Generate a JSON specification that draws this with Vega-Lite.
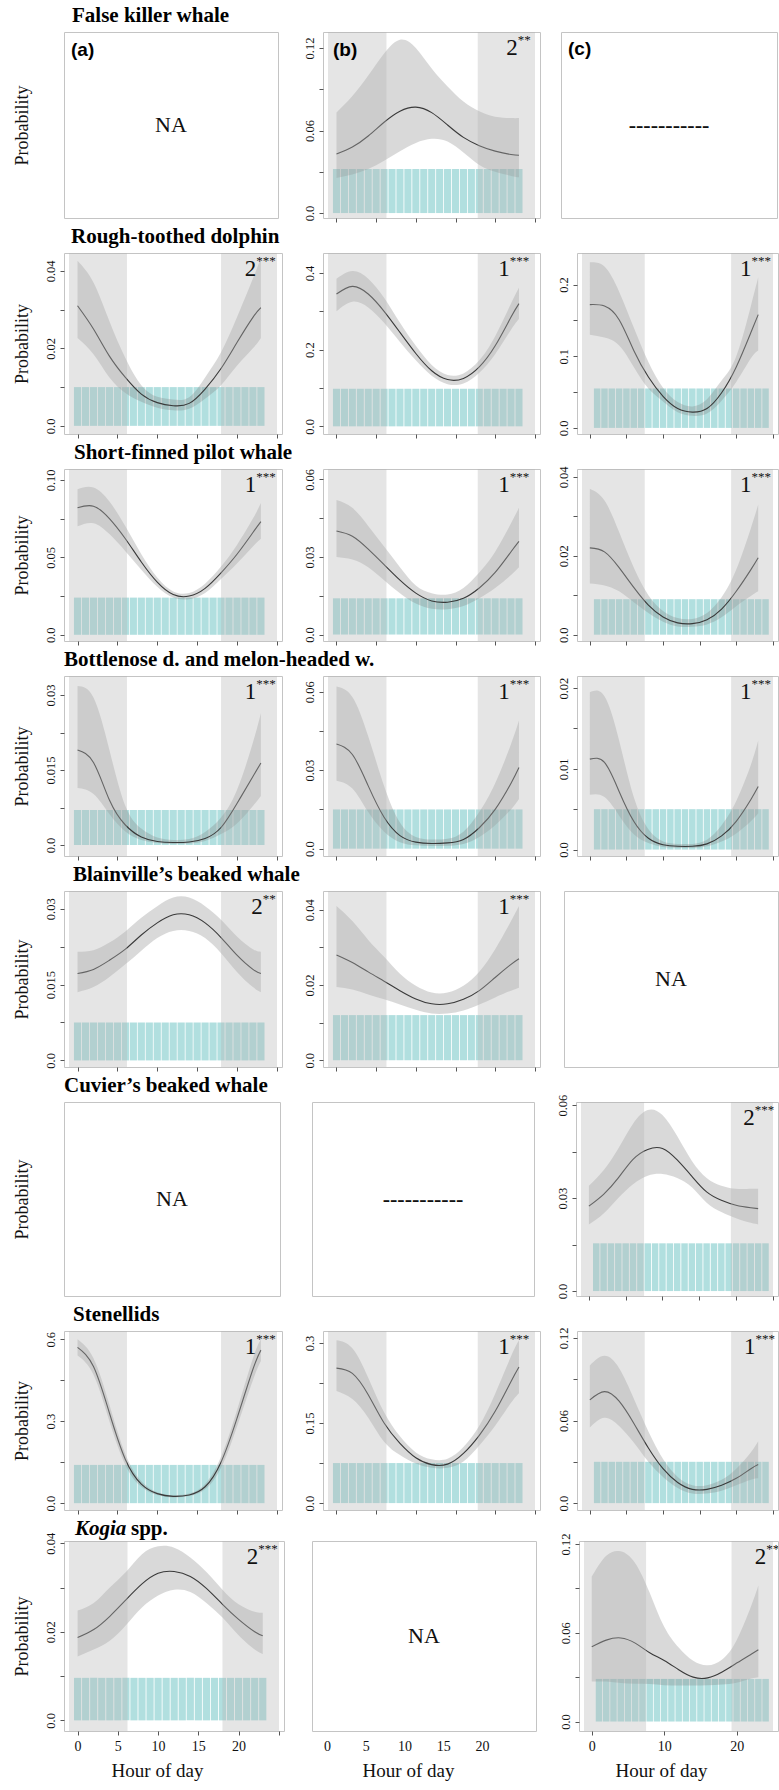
{
"$schema":"https://vega.github.io/schema/vega-lite/v6.json",
"background":"white",
"padding":{"left":12,"top":4,"right":0,"bottom":0},
"spacing":2,
"config":{
 "view":{"stroke":"#c4c4c4","strokeWidth":1},
 "axis":{"grid":false,"domain":false,"tickColor":"#555555","tickSize":4,"tickWidth":1,"labelFont":"Liberation Serif","titleFont":"Liberation Serif","labelColor":"#111111","titleColor":"#111111","titleFontWeight":"normal","labelFlush":false,"labelOverlap":false},
 "axisY":{"labelAngle":270,"labelAlign":"center","labelBaseline":"bottom","labelFontSize":12.5,"labelPadding":3,"minExtent":22,"maxExtent":22,"titleFontSize":18,"titlePadding":11},
 "axisX":{"labelAngle":0,"labelFontSize":14,"labelPadding":4,"titleFontSize":19,"titlePadding":8},
 "title":{"font":"Liberation Serif","fontSize":21,"fontWeight":"bold","anchor":"start","frame":"group","color":"#000000","baseline":"alphabetic","offset":6},
 "text":{"font":"Liberation Serif","color":"#111111"}
},
"datasets":{
"night":[{"col":"a","from":-1.07,"to":6.2},{"col":"a","from":18.0,"to":25.02},{"col":"b","from":-1.07,"to":6.3},{"col":"b","from":17.8,"to":25.02},{"col":"c","from":-1.07,"to":7.5},{"col":"c","from":19.3,"to":25.02}],
"notes":[{"p":"1b","n":"2","s":"**"},{"p":"2a","n":"2","s":"***"},{"p":"2b","n":"1","s":"***"},{"p":"2c","n":"1","s":"***"},{"p":"3a","n":"1","s":"***"},{"p":"3b","n":"1","s":"***"},{"p":"3c","n":"1","s":"***"},{"p":"4a","n":"1","s":"***"},{"p":"4b","n":"1","s":"***"},{"p":"4c","n":"1","s":"***"},{"p":"5a","n":"2","s":"**"},{"p":"5b","n":"1","s":"***"},{"p":"6c","n":"2","s":"***"},{"p":"7a","n":"1","s":"***"},{"p":"7b","n":"1","s":"***"},{"p":"7c","n":"1","s":"***"},{"p":"8a","n":"2","s":"***"},{"p":"8c","n":"2","s":"**"}],
"labels":[{"p":"1a","k":"c","t":"NA"},{"p":"1a","k":"l","t":"(a)"},{"p":"1b","k":"l","t":"(b)"},{"p":"1c","k":"c","t":"-----------"},{"p":"1c","k":"l","t":"(c)"},{"p":"5c","k":"c","t":"NA"},{"p":"6a","k":"c","t":"NA"},{"p":"6b","k":"c","t":"-----------"},{"p":"8b","k":"c","t":"NA"},{"p":"8a","k":"t","t":"Kogia"},{"p":"8a","k":"u","t":"spp."}],
"bars":[
{"p":"1b","h":0,"v":0.032},{"p":"1b","h":1,"v":0.032},{"p":"1b","h":2,"v":0.032},{"p":"1b","h":3,"v":0.032},{"p":"1b","h":4,"v":0.032},{"p":"1b","h":5,"v":0.032},{"p":"1b","h":6,"v":0.032},{"p":"1b","h":7,"v":0.032},{"p":"1b","h":8,"v":0.032},{"p":"1b","h":9,"v":0.032},{"p":"1b","h":10,"v":0.032},{"p":"1b","h":11,"v":0.032},{"p":"1b","h":12,"v":0.032},{"p":"1b","h":13,"v":0.032},{"p":"1b","h":14,"v":0.032},{"p":"1b","h":15,"v":0.032},{"p":"1b","h":16,"v":0.032},{"p":"1b","h":17,"v":0.032},{"p":"1b","h":18,"v":0.032},{"p":"1b","h":19,"v":0.032},{"p":"1b","h":20,"v":0.032},{"p":"1b","h":21,"v":0.032},{"p":"1b","h":22,"v":0.032},{"p":"1b","h":23,"v":0.032},
{"p":"2a","h":0,"v":0.01},{"p":"2a","h":1,"v":0.01},{"p":"2a","h":2,"v":0.01},{"p":"2a","h":3,"v":0.01},{"p":"2a","h":4,"v":0.01},{"p":"2a","h":5,"v":0.01},{"p":"2a","h":6,"v":0.01},{"p":"2a","h":7,"v":0.01},{"p":"2a","h":8,"v":0.01},{"p":"2a","h":9,"v":0.01},{"p":"2a","h":10,"v":0.01},{"p":"2a","h":11,"v":0.01},{"p":"2a","h":12,"v":0.01},{"p":"2a","h":13,"v":0.01},{"p":"2a","h":14,"v":0.01},{"p":"2a","h":15,"v":0.01},{"p":"2a","h":16,"v":0.01},{"p":"2a","h":17,"v":0.01},{"p":"2a","h":18,"v":0.01},{"p":"2a","h":19,"v":0.01},{"p":"2a","h":20,"v":0.01},{"p":"2a","h":21,"v":0.01},{"p":"2a","h":22,"v":0.01},{"p":"2a","h":23,"v":0.01},
{"p":"2b","h":0,"v":0.098},{"p":"2b","h":1,"v":0.098},{"p":"2b","h":2,"v":0.098},{"p":"2b","h":3,"v":0.098},{"p":"2b","h":4,"v":0.098},{"p":"2b","h":5,"v":0.098},{"p":"2b","h":6,"v":0.098},{"p":"2b","h":7,"v":0.098},{"p":"2b","h":8,"v":0.098},{"p":"2b","h":9,"v":0.098},{"p":"2b","h":10,"v":0.098},{"p":"2b","h":11,"v":0.098},{"p":"2b","h":12,"v":0.098},{"p":"2b","h":13,"v":0.098},{"p":"2b","h":14,"v":0.098},{"p":"2b","h":15,"v":0.098},{"p":"2b","h":16,"v":0.098},{"p":"2b","h":17,"v":0.098},{"p":"2b","h":18,"v":0.098},{"p":"2b","h":19,"v":0.098},{"p":"2b","h":20,"v":0.098},{"p":"2b","h":21,"v":0.098},{"p":"2b","h":22,"v":0.098},{"p":"2b","h":23,"v":0.098},
{"p":"2c","h":1,"v":0.055},{"p":"2c","h":2,"v":0.055},{"p":"2c","h":3,"v":0.055},{"p":"2c","h":4,"v":0.055},{"p":"2c","h":5,"v":0.055},{"p":"2c","h":6,"v":0.055},{"p":"2c","h":7,"v":0.055},{"p":"2c","h":8,"v":0.055},{"p":"2c","h":9,"v":0.055},{"p":"2c","h":10,"v":0.055},{"p":"2c","h":11,"v":0.055},{"p":"2c","h":12,"v":0.055},{"p":"2c","h":13,"v":0.055},{"p":"2c","h":14,"v":0.055},{"p":"2c","h":15,"v":0.055},{"p":"2c","h":16,"v":0.055},{"p":"2c","h":17,"v":0.055},{"p":"2c","h":18,"v":0.055},{"p":"2c","h":19,"v":0.055},{"p":"2c","h":20,"v":0.055},{"p":"2c","h":21,"v":0.055},{"p":"2c","h":22,"v":0.055},{"p":"2c","h":23,"v":0.055},{"p":"2c","h":24,"v":0.055},
{"p":"3a","h":0,"v":0.024},{"p":"3a","h":1,"v":0.024},{"p":"3a","h":2,"v":0.024},{"p":"3a","h":3,"v":0.024},{"p":"3a","h":4,"v":0.024},{"p":"3a","h":5,"v":0.024},{"p":"3a","h":6,"v":0.024},{"p":"3a","h":7,"v":0.024},{"p":"3a","h":8,"v":0.024},{"p":"3a","h":9,"v":0.024},{"p":"3a","h":10,"v":0.024},{"p":"3a","h":11,"v":0.024},{"p":"3a","h":12,"v":0.024},{"p":"3a","h":13,"v":0.024},{"p":"3a","h":14,"v":0.024},{"p":"3a","h":15,"v":0.024},{"p":"3a","h":16,"v":0.024},{"p":"3a","h":17,"v":0.024},{"p":"3a","h":18,"v":0.024},{"p":"3a","h":19,"v":0.024},{"p":"3a","h":20,"v":0.024},{"p":"3a","h":21,"v":0.024},{"p":"3a","h":22,"v":0.024},{"p":"3a","h":23,"v":0.024},
{"p":"3b","h":0,"v":0.014},{"p":"3b","h":1,"v":0.014},{"p":"3b","h":2,"v":0.014},{"p":"3b","h":3,"v":0.014},{"p":"3b","h":4,"v":0.014},{"p":"3b","h":5,"v":0.014},{"p":"3b","h":6,"v":0.014},{"p":"3b","h":7,"v":0.014},{"p":"3b","h":8,"v":0.014},{"p":"3b","h":9,"v":0.014},{"p":"3b","h":10,"v":0.014},{"p":"3b","h":11,"v":0.014},{"p":"3b","h":12,"v":0.014},{"p":"3b","h":13,"v":0.014},{"p":"3b","h":14,"v":0.014},{"p":"3b","h":15,"v":0.014},{"p":"3b","h":16,"v":0.014},{"p":"3b","h":17,"v":0.014},{"p":"3b","h":18,"v":0.014},{"p":"3b","h":19,"v":0.014},{"p":"3b","h":20,"v":0.014},{"p":"3b","h":21,"v":0.014},{"p":"3b","h":22,"v":0.014},{"p":"3b","h":23,"v":0.014},
{"p":"3c","h":1,"v":0.009},{"p":"3c","h":2,"v":0.009},{"p":"3c","h":3,"v":0.009},{"p":"3c","h":4,"v":0.009},{"p":"3c","h":5,"v":0.009},{"p":"3c","h":6,"v":0.009},{"p":"3c","h":7,"v":0.009},{"p":"3c","h":8,"v":0.009},{"p":"3c","h":9,"v":0.009},{"p":"3c","h":10,"v":0.009},{"p":"3c","h":11,"v":0.009},{"p":"3c","h":12,"v":0.009},{"p":"3c","h":13,"v":0.009},{"p":"3c","h":14,"v":0.009},{"p":"3c","h":15,"v":0.009},{"p":"3c","h":16,"v":0.009},{"p":"3c","h":17,"v":0.009},{"p":"3c","h":18,"v":0.009},{"p":"3c","h":19,"v":0.009},{"p":"3c","h":20,"v":0.009},{"p":"3c","h":21,"v":0.009},{"p":"3c","h":22,"v":0.009},{"p":"3c","h":23,"v":0.009},{"p":"3c","h":24,"v":0.009},
{"p":"4a","h":0,"v":0.007},{"p":"4a","h":1,"v":0.007},{"p":"4a","h":2,"v":0.007},{"p":"4a","h":3,"v":0.007},{"p":"4a","h":4,"v":0.007},{"p":"4a","h":5,"v":0.007},{"p":"4a","h":6,"v":0.007},{"p":"4a","h":7,"v":0.007},{"p":"4a","h":8,"v":0.007},{"p":"4a","h":9,"v":0.007},{"p":"4a","h":10,"v":0.007},{"p":"4a","h":11,"v":0.007},{"p":"4a","h":12,"v":0.007},{"p":"4a","h":13,"v":0.007},{"p":"4a","h":14,"v":0.007},{"p":"4a","h":15,"v":0.007},{"p":"4a","h":16,"v":0.007},{"p":"4a","h":17,"v":0.007},{"p":"4a","h":18,"v":0.007},{"p":"4a","h":19,"v":0.007},{"p":"4a","h":20,"v":0.007},{"p":"4a","h":21,"v":0.007},{"p":"4a","h":22,"v":0.007},{"p":"4a","h":23,"v":0.007},
{"p":"4b","h":0,"v":0.015},{"p":"4b","h":1,"v":0.015},{"p":"4b","h":2,"v":0.015},{"p":"4b","h":3,"v":0.015},{"p":"4b","h":4,"v":0.015},{"p":"4b","h":5,"v":0.015},{"p":"4b","h":6,"v":0.015},{"p":"4b","h":7,"v":0.015},{"p":"4b","h":8,"v":0.015},{"p":"4b","h":9,"v":0.015},{"p":"4b","h":10,"v":0.015},{"p":"4b","h":11,"v":0.015},{"p":"4b","h":12,"v":0.015},{"p":"4b","h":13,"v":0.015},{"p":"4b","h":14,"v":0.015},{"p":"4b","h":15,"v":0.015},{"p":"4b","h":16,"v":0.015},{"p":"4b","h":17,"v":0.015},{"p":"4b","h":18,"v":0.015},{"p":"4b","h":19,"v":0.015},{"p":"4b","h":20,"v":0.015},{"p":"4b","h":21,"v":0.015},{"p":"4b","h":22,"v":0.015},{"p":"4b","h":23,"v":0.015},
{"p":"4c","h":1,"v":0.005},{"p":"4c","h":2,"v":0.005},{"p":"4c","h":3,"v":0.005},{"p":"4c","h":4,"v":0.005},{"p":"4c","h":5,"v":0.005},{"p":"4c","h":6,"v":0.005},{"p":"4c","h":7,"v":0.005},{"p":"4c","h":8,"v":0.005},{"p":"4c","h":9,"v":0.005},{"p":"4c","h":10,"v":0.005},{"p":"4c","h":11,"v":0.005},{"p":"4c","h":12,"v":0.005},{"p":"4c","h":13,"v":0.005},{"p":"4c","h":14,"v":0.005},{"p":"4c","h":15,"v":0.005},{"p":"4c","h":16,"v":0.005},{"p":"4c","h":17,"v":0.005},{"p":"4c","h":18,"v":0.005},{"p":"4c","h":19,"v":0.005},{"p":"4c","h":20,"v":0.005},{"p":"4c","h":21,"v":0.005},{"p":"4c","h":22,"v":0.005},{"p":"4c","h":23,"v":0.005},{"p":"4c","h":24,"v":0.005},
{"p":"5a","h":0,"v":0.0075},{"p":"5a","h":1,"v":0.0075},{"p":"5a","h":2,"v":0.0075},{"p":"5a","h":3,"v":0.0075},{"p":"5a","h":4,"v":0.0075},{"p":"5a","h":5,"v":0.0075},{"p":"5a","h":6,"v":0.0075},{"p":"5a","h":7,"v":0.0075},{"p":"5a","h":8,"v":0.0075},{"p":"5a","h":9,"v":0.0075},{"p":"5a","h":10,"v":0.0075},{"p":"5a","h":11,"v":0.0075},{"p":"5a","h":12,"v":0.0075},{"p":"5a","h":13,"v":0.0075},{"p":"5a","h":14,"v":0.0075},{"p":"5a","h":15,"v":0.0075},{"p":"5a","h":16,"v":0.0075},{"p":"5a","h":17,"v":0.0075},{"p":"5a","h":18,"v":0.0075},{"p":"5a","h":19,"v":0.0075},{"p":"5a","h":20,"v":0.0075},{"p":"5a","h":21,"v":0.0075},{"p":"5a","h":22,"v":0.0075},{"p":"5a","h":23,"v":0.0075},
{"p":"5b","h":0,"v":0.012},{"p":"5b","h":1,"v":0.012},{"p":"5b","h":2,"v":0.012},{"p":"5b","h":3,"v":0.012},{"p":"5b","h":4,"v":0.012},{"p":"5b","h":5,"v":0.012},{"p":"5b","h":6,"v":0.012},{"p":"5b","h":7,"v":0.012},{"p":"5b","h":8,"v":0.012},{"p":"5b","h":9,"v":0.012},{"p":"5b","h":10,"v":0.012},{"p":"5b","h":11,"v":0.012},{"p":"5b","h":12,"v":0.012},{"p":"5b","h":13,"v":0.012},{"p":"5b","h":14,"v":0.012},{"p":"5b","h":15,"v":0.012},{"p":"5b","h":16,"v":0.012},{"p":"5b","h":17,"v":0.012},{"p":"5b","h":18,"v":0.012},{"p":"5b","h":19,"v":0.012},{"p":"5b","h":20,"v":0.012},{"p":"5b","h":21,"v":0.012},{"p":"5b","h":22,"v":0.012},{"p":"5b","h":23,"v":0.012},
{"p":"6c","h":1,"v":0.0154},{"p":"6c","h":2,"v":0.0154},{"p":"6c","h":3,"v":0.0154},{"p":"6c","h":4,"v":0.0154},{"p":"6c","h":5,"v":0.0154},{"p":"6c","h":6,"v":0.0154},{"p":"6c","h":7,"v":0.0154},{"p":"6c","h":8,"v":0.0154},{"p":"6c","h":9,"v":0.0154},{"p":"6c","h":10,"v":0.0154},{"p":"6c","h":11,"v":0.0154},{"p":"6c","h":12,"v":0.0154},{"p":"6c","h":13,"v":0.0154},{"p":"6c","h":14,"v":0.0154},{"p":"6c","h":15,"v":0.0154},{"p":"6c","h":16,"v":0.0154},{"p":"6c","h":17,"v":0.0154},{"p":"6c","h":18,"v":0.0154},{"p":"6c","h":19,"v":0.0154},{"p":"6c","h":20,"v":0.0154},{"p":"6c","h":21,"v":0.0154},{"p":"6c","h":22,"v":0.0154},{"p":"6c","h":23,"v":0.0154},{"p":"6c","h":24,"v":0.0154},
{"p":"7a","h":0,"v":0.14},{"p":"7a","h":1,"v":0.14},{"p":"7a","h":2,"v":0.14},{"p":"7a","h":3,"v":0.14},{"p":"7a","h":4,"v":0.14},{"p":"7a","h":5,"v":0.14},{"p":"7a","h":6,"v":0.14},{"p":"7a","h":7,"v":0.14},{"p":"7a","h":8,"v":0.14},{"p":"7a","h":9,"v":0.14},{"p":"7a","h":10,"v":0.14},{"p":"7a","h":11,"v":0.14},{"p":"7a","h":12,"v":0.14},{"p":"7a","h":13,"v":0.14},{"p":"7a","h":14,"v":0.14},{"p":"7a","h":15,"v":0.14},{"p":"7a","h":16,"v":0.14},{"p":"7a","h":17,"v":0.14},{"p":"7a","h":18,"v":0.14},{"p":"7a","h":19,"v":0.14},{"p":"7a","h":20,"v":0.14},{"p":"7a","h":21,"v":0.14},{"p":"7a","h":22,"v":0.14},{"p":"7a","h":23,"v":0.14},
{"p":"7b","h":0,"v":0.075},{"p":"7b","h":1,"v":0.075},{"p":"7b","h":2,"v":0.075},{"p":"7b","h":3,"v":0.075},{"p":"7b","h":4,"v":0.075},{"p":"7b","h":5,"v":0.075},{"p":"7b","h":6,"v":0.075},{"p":"7b","h":7,"v":0.075},{"p":"7b","h":8,"v":0.075},{"p":"7b","h":9,"v":0.075},{"p":"7b","h":10,"v":0.075},{"p":"7b","h":11,"v":0.075},{"p":"7b","h":12,"v":0.075},{"p":"7b","h":13,"v":0.075},{"p":"7b","h":14,"v":0.075},{"p":"7b","h":15,"v":0.075},{"p":"7b","h":16,"v":0.075},{"p":"7b","h":17,"v":0.075},{"p":"7b","h":18,"v":0.075},{"p":"7b","h":19,"v":0.075},{"p":"7b","h":20,"v":0.075},{"p":"7b","h":21,"v":0.075},{"p":"7b","h":22,"v":0.075},{"p":"7b","h":23,"v":0.075},
{"p":"7c","h":1,"v":0.03},{"p":"7c","h":2,"v":0.03},{"p":"7c","h":3,"v":0.03},{"p":"7c","h":4,"v":0.03},{"p":"7c","h":5,"v":0.03},{"p":"7c","h":6,"v":0.03},{"p":"7c","h":7,"v":0.03},{"p":"7c","h":8,"v":0.03},{"p":"7c","h":9,"v":0.03},{"p":"7c","h":10,"v":0.03},{"p":"7c","h":11,"v":0.03},{"p":"7c","h":12,"v":0.03},{"p":"7c","h":13,"v":0.03},{"p":"7c","h":14,"v":0.03},{"p":"7c","h":15,"v":0.03},{"p":"7c","h":16,"v":0.03},{"p":"7c","h":17,"v":0.03},{"p":"7c","h":18,"v":0.03},{"p":"7c","h":19,"v":0.03},{"p":"7c","h":20,"v":0.03},{"p":"7c","h":21,"v":0.03},{"p":"7c","h":22,"v":0.03},{"p":"7c","h":23,"v":0.03},{"p":"7c","h":24,"v":0.03},
{"p":"8a","h":0,"v":0.0096},{"p":"8a","h":1,"v":0.0096},{"p":"8a","h":2,"v":0.0096},{"p":"8a","h":3,"v":0.0096},{"p":"8a","h":4,"v":0.0096},{"p":"8a","h":5,"v":0.0096},{"p":"8a","h":6,"v":0.0096},{"p":"8a","h":7,"v":0.0096},{"p":"8a","h":8,"v":0.0096},{"p":"8a","h":9,"v":0.0096},{"p":"8a","h":10,"v":0.0096},{"p":"8a","h":11,"v":0.0096},{"p":"8a","h":12,"v":0.0096},{"p":"8a","h":13,"v":0.0096},{"p":"8a","h":14,"v":0.0096},{"p":"8a","h":15,"v":0.0096},{"p":"8a","h":16,"v":0.0096},{"p":"8a","h":17,"v":0.0096},{"p":"8a","h":18,"v":0.0096},{"p":"8a","h":19,"v":0.0096},{"p":"8a","h":20,"v":0.0096},{"p":"8a","h":21,"v":0.0096},{"p":"8a","h":22,"v":0.0096},{"p":"8a","h":23,"v":0.0096},
{"p":"8c","h":1,"v":0.0288},{"p":"8c","h":2,"v":0.0288},{"p":"8c","h":3,"v":0.0288},{"p":"8c","h":4,"v":0.0288},{"p":"8c","h":5,"v":0.0288},{"p":"8c","h":6,"v":0.0288},{"p":"8c","h":7,"v":0.0288},{"p":"8c","h":8,"v":0.0288},{"p":"8c","h":9,"v":0.0288},{"p":"8c","h":10,"v":0.0288},{"p":"8c","h":11,"v":0.0288},{"p":"8c","h":12,"v":0.0288},{"p":"8c","h":13,"v":0.0288},{"p":"8c","h":14,"v":0.0288},{"p":"8c","h":15,"v":0.0288},{"p":"8c","h":16,"v":0.0288},{"p":"8c","h":17,"v":0.0288},{"p":"8c","h":18,"v":0.0288},{"p":"8c","h":19,"v":0.0288},{"p":"8c","h":20,"v":0.0288},{"p":"8c","h":21,"v":0.0288},{"p":"8c","h":22,"v":0.0288},{"p":"8c","h":23,"v":0.0288},{"p":"8c","h":24,"v":0.0288}
],
"curves":[
{"p":"1b","h":0,"fit":0.043,"lo":0.0255,"hi":0.073},{"p":"1b","h":2,"fit":0.048,"lo":0.028,"hi":0.085},{"p":"1b","h":4,"fit":0.056,"lo":0.032,"hi":0.1},{"p":"1b","h":6,"fit":0.066,"lo":0.038,"hi":0.116},{"p":"1b","h":8,"fit":0.074,"lo":0.045,"hi":0.126},{"p":"1b","h":10,"fit":0.077,"lo":0.051,"hi":0.12},{"p":"1b","h":12,"fit":0.073,"lo":0.054,"hi":0.105},{"p":"1b","h":14,"fit":0.064,"lo":0.052,"hi":0.092},{"p":"1b","h":16,"fit":0.055,"lo":0.044,"hi":0.081},{"p":"1b","h":18,"fit":0.049,"lo":0.035,"hi":0.074},{"p":"1b","h":20,"fit":0.045,"lo":0.03,"hi":0.07},{"p":"1b","h":22,"fit":0.0425,"lo":0.027,"hi":0.069},{"p":"1b","h":23,"fit":0.042,"lo":0.026,"hi":0.069},
{"p":"2a","h":0,"fit":0.031,"lo":0.0227,"hi":0.0426},{"p":"2a","h":2,"fit":0.025,"lo":0.0185,"hi":0.037},{"p":"2a","h":4,"fit":0.018,"lo":0.0125,"hi":0.027},{"p":"2a","h":6,"fit":0.0125,"lo":0.0085,"hi":0.0175},{"p":"2a","h":8,"fit":0.0082,"lo":0.0062,"hi":0.0105},{"p":"2a","h":10,"fit":0.006,"lo":0.0047,"hi":0.0075},{"p":"2a","h":12,"fit":0.0052,"lo":0.004,"hi":0.0068},{"p":"2a","h":14,"fit":0.0058,"lo":0.0044,"hi":0.0074},{"p":"2a","h":16,"fit":0.0095,"lo":0.007,"hi":0.0125},{"p":"2a","h":18,"fit":0.0148,"lo":0.0105,"hi":0.019},{"p":"2a","h":20,"fit":0.0215,"lo":0.0155,"hi":0.028},{"p":"2a","h":22,"fit":0.028,"lo":0.02,"hi":0.038},{"p":"2a","h":23,"fit":0.0305,"lo":0.0227,"hi":0.0434},
{"p":"2b","h":0,"fit":0.345,"lo":0.3,"hi":0.385},{"p":"2b","h":2,"fit":0.365,"lo":0.325,"hi":0.405},{"p":"2b","h":4,"fit":0.345,"lo":0.31,"hi":0.385},{"p":"2b","h":6,"fit":0.3,"lo":0.27,"hi":0.335},{"p":"2b","h":8,"fit":0.245,"lo":0.22,"hi":0.27},{"p":"2b","h":10,"fit":0.19,"lo":0.172,"hi":0.21},{"p":"2b","h":12,"fit":0.145,"lo":0.132,"hi":0.16},{"p":"2b","h":14,"fit":0.122,"lo":0.11,"hi":0.134},{"p":"2b","h":16,"fit":0.125,"lo":0.112,"hi":0.138},{"p":"2b","h":18,"fit":0.155,"lo":0.14,"hi":0.172},{"p":"2b","h":20,"fit":0.21,"lo":0.188,"hi":0.235},{"p":"2b","h":22,"fit":0.285,"lo":0.252,"hi":0.32},{"p":"2b","h":23,"fit":0.32,"lo":0.28,"hi":0.362},
{"p":"2c","h":0,"fit":0.172,"lo":0.13,"hi":0.231},{"p":"2c","h":2,"fit":0.17,"lo":0.126,"hi":0.225},{"p":"2c","h":4,"fit":0.151,"lo":0.115,"hi":0.19},{"p":"2c","h":6,"fit":0.108,"lo":0.085,"hi":0.14},{"p":"2c","h":8,"fit":0.071,"lo":0.055,"hi":0.092},{"p":"2c","h":10,"fit":0.044,"lo":0.037,"hi":0.056},{"p":"2c","h":12,"fit":0.027,"lo":0.022,"hi":0.036},{"p":"2c","h":14,"fit":0.022,"lo":0.017,"hi":0.03},{"p":"2c","h":16,"fit":0.027,"lo":0.02,"hi":0.04},{"p":"2c","h":18,"fit":0.049,"lo":0.038,"hi":0.066},{"p":"2c","h":20,"fit":0.085,"lo":0.064,"hi":0.1},{"p":"2c","h":22,"fit":0.133,"lo":0.097,"hi":0.17},{"p":"2c","h":23,"fit":0.158,"lo":0.108,"hi":0.21},
{"p":"3a","h":0,"fit":0.082,"lo":0.07,"hi":0.094},{"p":"3a","h":2,"fit":0.083,"lo":0.072,"hi":0.095},{"p":"3a","h":4,"fit":0.075,"lo":0.065,"hi":0.086},{"p":"3a","h":6,"fit":0.062,"lo":0.054,"hi":0.07},{"p":"3a","h":8,"fit":0.047,"lo":0.042,"hi":0.052},{"p":"3a","h":10,"fit":0.034,"lo":0.031,"hi":0.037},{"p":"3a","h":12,"fit":0.026,"lo":0.024,"hi":0.028},{"p":"3a","h":14,"fit":0.025,"lo":0.023,"hi":0.027},{"p":"3a","h":16,"fit":0.03,"lo":0.027,"hi":0.033},{"p":"3a","h":18,"fit":0.04,"lo":0.036,"hi":0.044},{"p":"3a","h":20,"fit":0.052,"lo":0.046,"hi":0.058},{"p":"3a","h":22,"fit":0.066,"lo":0.057,"hi":0.075},{"p":"3a","h":23,"fit":0.073,"lo":0.062,"hi":0.085},
{"p":"3b","h":0,"fit":0.04,"lo":0.03,"hi":0.052},{"p":"3b","h":2,"fit":0.038,"lo":0.029,"hi":0.049},{"p":"3b","h":4,"fit":0.033,"lo":0.026,"hi":0.042},{"p":"3b","h":6,"fit":0.027,"lo":0.021,"hi":0.034},{"p":"3b","h":8,"fit":0.021,"lo":0.016,"hi":0.026},{"p":"3b","h":10,"fit":0.016,"lo":0.012,"hi":0.019},{"p":"3b","h":12,"fit":0.013,"lo":0.01,"hi":0.016},{"p":"3b","h":14,"fit":0.0125,"lo":0.0098,"hi":0.0155},{"p":"3b","h":16,"fit":0.014,"lo":0.011,"hi":0.018},{"p":"3b","h":18,"fit":0.018,"lo":0.014,"hi":0.024},{"p":"3b","h":20,"fit":0.024,"lo":0.018,"hi":0.032},{"p":"3b","h":22,"fit":0.032,"lo":0.023,"hi":0.043},{"p":"3b","h":23,"fit":0.036,"lo":0.026,"hi":0.049},
{"p":"3c","h":0,"fit":0.022,"lo":0.013,"hi":0.037},{"p":"3c","h":2,"fit":0.021,"lo":0.0125,"hi":0.034},{"p":"3c","h":4,"fit":0.017,"lo":0.011,"hi":0.026},{"p":"3c","h":6,"fit":0.012,"lo":0.0082,"hi":0.017},{"p":"3c","h":8,"fit":0.0075,"lo":0.0055,"hi":0.01},{"p":"3c","h":10,"fit":0.0045,"lo":0.0033,"hi":0.006},{"p":"3c","h":12,"fit":0.003,"lo":0.0021,"hi":0.0042},{"p":"3c","h":14,"fit":0.0028,"lo":0.002,"hi":0.004},{"p":"3c","h":16,"fit":0.0038,"lo":0.0026,"hi":0.0055},{"p":"3c","h":18,"fit":0.0065,"lo":0.0044,"hi":0.0095},{"p":"3c","h":20,"fit":0.011,"lo":0.0072,"hi":0.0165},{"p":"3c","h":22,"fit":0.0165,"lo":0.0098,"hi":0.027},{"p":"3c","h":23,"fit":0.0195,"lo":0.011,"hi":0.033},
{"p":"4a","h":0,"fit":0.019,"lo":0.0114,"hi":0.0318},{"p":"4a","h":2,"fit":0.0165,"lo":0.0102,"hi":0.0295},{"p":"4a","h":4,"fit":0.009,"lo":0.0062,"hi":0.019},{"p":"4a","h":6,"fit":0.004,"lo":0.0027,"hi":0.0078},{"p":"4a","h":8,"fit":0.0016,"lo":0.001,"hi":0.0033},{"p":"4a","h":10,"fit":0.0007,"lo":0.0004,"hi":0.0015},{"p":"4a","h":12,"fit":0.0005,"lo":0.0002,"hi":0.001},{"p":"4a","h":14,"fit":0.0006,"lo":0.0003,"hi":0.0012},{"p":"4a","h":16,"fit":0.0013,"lo":0.0008,"hi":0.0026},{"p":"4a","h":18,"fit":0.0035,"lo":0.0022,"hi":0.0055},{"p":"4a","h":20,"fit":0.0083,"lo":0.0043,"hi":0.011},{"p":"4a","h":22,"fit":0.0137,"lo":0.0078,"hi":0.0205},{"p":"4a","h":23,"fit":0.0164,"lo":0.0098,"hi":0.0264},
{"p":"4b","h":0,"fit":0.04,"lo":0.026,"hi":0.062},{"p":"4b","h":2,"fit":0.036,"lo":0.023,"hi":0.058},{"p":"4b","h":4,"fit":0.024,"lo":0.014,"hi":0.043},{"p":"4b","h":6,"fit":0.012,"lo":0.0065,"hi":0.024},{"p":"4b","h":8,"fit":0.005,"lo":0.0025,"hi":0.01},{"p":"4b","h":10,"fit":0.0025,"lo":0.0013,"hi":0.0045},{"p":"4b","h":12,"fit":0.002,"lo":0.001,"hi":0.0035},{"p":"4b","h":14,"fit":0.0022,"lo":0.0011,"hi":0.0038},{"p":"4b","h":16,"fit":0.0035,"lo":0.0018,"hi":0.0065},{"p":"4b","h":18,"fit":0.008,"lo":0.0045,"hi":0.014},{"p":"4b","h":20,"fit":0.015,"lo":0.009,"hi":0.025},{"p":"4b","h":22,"fit":0.025,"lo":0.015,"hi":0.04},{"p":"4b","h":23,"fit":0.031,"lo":0.019,"hi":0.049},
{"p":"4c","h":0,"fit":0.0112,"lo":0.0068,"hi":0.0195},{"p":"4c","h":2,"fit":0.0108,"lo":0.0065,"hi":0.019},{"p":"4c","h":4,"fit":0.0072,"lo":0.0042,"hi":0.0135},{"p":"4c","h":6,"fit":0.0035,"lo":0.0019,"hi":0.0065},{"p":"4c","h":8,"fit":0.0014,"lo":0.0008,"hi":0.0025},{"p":"4c","h":10,"fit":0.0006,"lo":0.0003,"hi":0.001},{"p":"4c","h":12,"fit":0.0004,"lo":0.0002,"hi":0.0007},{"p":"4c","h":14,"fit":0.0004,"lo":0.0002,"hi":0.0007},{"p":"4c","h":16,"fit":0.0007,"lo":0.0004,"hi":0.0012},{"p":"4c","h":18,"fit":0.0017,"lo":0.001,"hi":0.003},{"p":"4c","h":20,"fit":0.0035,"lo":0.002,"hi":0.006},{"p":"4c","h":22,"fit":0.0062,"lo":0.0035,"hi":0.0105},{"p":"4c","h":23,"fit":0.0078,"lo":0.0045,"hi":0.0135},
{"p":"5a","h":0,"fit":0.0172,"lo":0.0135,"hi":0.0215},{"p":"5a","h":2,"fit":0.018,"lo":0.0145,"hi":0.0218},{"p":"5a","h":4,"fit":0.0198,"lo":0.0165,"hi":0.0233},{"p":"5a","h":6,"fit":0.022,"lo":0.019,"hi":0.0255},{"p":"5a","h":8,"fit":0.0248,"lo":0.0217,"hi":0.0282},{"p":"5a","h":10,"fit":0.0272,"lo":0.0242,"hi":0.0305},{"p":"5a","h":12,"fit":0.0288,"lo":0.0256,"hi":0.0322},{"p":"5a","h":14,"fit":0.0288,"lo":0.0256,"hi":0.0322},{"p":"5a","h":16,"fit":0.0272,"lo":0.0242,"hi":0.0305},{"p":"5a","h":18,"fit":0.0243,"lo":0.0212,"hi":0.0278},{"p":"5a","h":20,"fit":0.0208,"lo":0.0175,"hi":0.0245},{"p":"5a","h":22,"fit":0.018,"lo":0.0145,"hi":0.022},{"p":"5a","h":23,"fit":0.0172,"lo":0.0135,"hi":0.0215},
{"p":"5b","h":0,"fit":0.028,"lo":0.0195,"hi":0.041},{"p":"5b","h":2,"fit":0.026,"lo":0.0188,"hi":0.037},{"p":"5b","h":4,"fit":0.0235,"lo":0.0175,"hi":0.032},{"p":"5b","h":6,"fit":0.021,"lo":0.0162,"hi":0.0275},{"p":"5b","h":8,"fit":0.0185,"lo":0.0148,"hi":0.023},{"p":"5b","h":10,"fit":0.0163,"lo":0.0134,"hi":0.0198},{"p":"5b","h":12,"fit":0.015,"lo":0.0124,"hi":0.018},{"p":"5b","h":14,"fit":0.015,"lo":0.0124,"hi":0.018},{"p":"5b","h":16,"fit":0.0162,"lo":0.0132,"hi":0.0198},{"p":"5b","h":18,"fit":0.0185,"lo":0.0148,"hi":0.0235},{"p":"5b","h":20,"fit":0.022,"lo":0.0167,"hi":0.0295},{"p":"5b","h":22,"fit":0.0255,"lo":0.0185,"hi":0.037},{"p":"5b","h":23,"fit":0.027,"lo":0.0193,"hi":0.041},
{"p":"6c","h":0,"fit":0.0274,"lo":0.0215,"hi":0.034},{"p":"6c","h":2,"fit":0.0312,"lo":0.025,"hi":0.039},{"p":"6c","h":4,"fit":0.0365,"lo":0.03,"hi":0.046},{"p":"6c","h":6,"fit":0.0425,"lo":0.0345,"hi":0.054},{"p":"6c","h":8,"fit":0.0457,"lo":0.0372,"hi":0.0584},{"p":"6c","h":10,"fit":0.046,"lo":0.0378,"hi":0.0568},{"p":"6c","h":12,"fit":0.0423,"lo":0.0365,"hi":0.05},{"p":"6c","h":14,"fit":0.037,"lo":0.0335,"hi":0.042},{"p":"6c","h":16,"fit":0.032,"lo":0.0285,"hi":0.0365},{"p":"6c","h":18,"fit":0.0293,"lo":0.0255,"hi":0.034},{"p":"6c","h":20,"fit":0.0277,"lo":0.0235,"hi":0.033},{"p":"6c","h":22,"fit":0.0269,"lo":0.022,"hi":0.033},{"p":"6c","h":23,"fit":0.0266,"lo":0.0215,"hi":0.033},
{"p":"7a","h":0,"fit":0.57,"lo":0.54,"hi":0.6},{"p":"7a","h":2,"fit":0.5,"lo":0.47,"hi":0.53},{"p":"7a","h":4,"fit":0.33,"lo":0.3,"hi":0.36},{"p":"7a","h":6,"fit":0.16,"lo":0.14,"hi":0.18},{"p":"7a","h":8,"fit":0.07,"lo":0.06,"hi":0.08},{"p":"7a","h":10,"fit":0.035,"lo":0.03,"hi":0.04},{"p":"7a","h":12,"fit":0.025,"lo":0.021,"hi":0.029},{"p":"7a","h":14,"fit":0.03,"lo":0.026,"hi":0.035},{"p":"7a","h":16,"fit":0.06,"lo":0.051,"hi":0.07},{"p":"7a","h":18,"fit":0.15,"lo":0.13,"hi":0.17},{"p":"7a","h":20,"fit":0.31,"lo":0.28,"hi":0.34},{"p":"7a","h":22,"fit":0.49,"lo":0.45,"hi":0.53},{"p":"7a","h":23,"fit":0.56,"lo":0.52,"hi":0.6},
{"p":"7b","h":0,"fit":0.253,"lo":0.21,"hi":0.305},{"p":"7b","h":2,"fit":0.243,"lo":0.195,"hi":0.29},{"p":"7b","h":4,"fit":0.203,"lo":0.16,"hi":0.235},{"p":"7b","h":6,"fit":0.15,"lo":0.115,"hi":0.17},{"p":"7b","h":8,"fit":0.112,"lo":0.09,"hi":0.125},{"p":"7b","h":10,"fit":0.085,"lo":0.074,"hi":0.095},{"p":"7b","h":12,"fit":0.072,"lo":0.066,"hi":0.082},{"p":"7b","h":14,"fit":0.073,"lo":0.066,"hi":0.083},{"p":"7b","h":16,"fit":0.093,"lo":0.078,"hi":0.105},{"p":"7b","h":18,"fit":0.127,"lo":0.108,"hi":0.145},{"p":"7b","h":20,"fit":0.172,"lo":0.145,"hi":0.205},{"p":"7b","h":22,"fit":0.228,"lo":0.188,"hi":0.275},{"p":"7b","h":23,"fit":0.255,"lo":0.206,"hi":0.305},
{"p":"7c","h":0,"fit":0.075,"lo":0.055,"hi":0.1},{"p":"7c","h":2,"fit":0.081,"lo":0.062,"hi":0.107},{"p":"7c","h":4,"fit":0.074,"lo":0.056,"hi":0.098},{"p":"7c","h":6,"fit":0.058,"lo":0.044,"hi":0.076},{"p":"7c","h":8,"fit":0.04,"lo":0.03,"hi":0.052},{"p":"7c","h":10,"fit":0.025,"lo":0.019,"hi":0.032},{"p":"7c","h":12,"fit":0.015,"lo":0.011,"hi":0.019},{"p":"7c","h":14,"fit":0.01,"lo":0.007,"hi":0.013},{"p":"7c","h":16,"fit":0.01,"lo":0.007,"hi":0.013},{"p":"7c","h":18,"fit":0.013,"lo":0.009,"hi":0.017},{"p":"7c","h":20,"fit":0.018,"lo":0.013,"hi":0.025},{"p":"7c","h":22,"fit":0.025,"lo":0.017,"hi":0.037},{"p":"7c","h":23,"fit":0.028,"lo":0.018,"hi":0.045},
{"p":"8a","h":0,"fit":0.0187,"lo":0.0144,"hi":0.0248},{"p":"8a","h":2,"fit":0.0205,"lo":0.016,"hi":0.0265},{"p":"8a","h":4,"fit":0.0235,"lo":0.018,"hi":0.03},{"p":"8a","h":6,"fit":0.0272,"lo":0.0215,"hi":0.0335},{"p":"8a","h":8,"fit":0.0308,"lo":0.0255,"hi":0.0375},{"p":"8a","h":10,"fit":0.0332,"lo":0.0282,"hi":0.0393},{"p":"8a","h":12,"fit":0.0336,"lo":0.0295,"hi":0.039},{"p":"8a","h":14,"fit":0.0325,"lo":0.029,"hi":0.0368},{"p":"8a","h":16,"fit":0.0298,"lo":0.0265,"hi":0.0335},{"p":"8a","h":18,"fit":0.0262,"lo":0.0232,"hi":0.0295},{"p":"8a","h":20,"fit":0.0228,"lo":0.0192,"hi":0.0262},{"p":"8a","h":22,"fit":0.02,"lo":0.016,"hi":0.0245},{"p":"8a","h":23,"fit":0.0191,"lo":0.015,"hi":0.0243},
{"p":"8c","h":0,"fit":0.0505,"lo":0.027,"hi":0.098},{"p":"8c","h":2,"fit":0.055,"lo":0.027,"hi":0.112},{"p":"8c","h":4,"fit":0.0565,"lo":0.026,"hi":0.115},{"p":"8c","h":6,"fit":0.053,"lo":0.0255,"hi":0.107},{"p":"8c","h":8,"fit":0.0465,"lo":0.0253,"hi":0.087},{"p":"8c","h":10,"fit":0.0413,"lo":0.0245,"hi":0.064},{"p":"8c","h":12,"fit":0.035,"lo":0.0243,"hi":0.05},{"p":"8c","h":14,"fit":0.03,"lo":0.0243,"hi":0.041},{"p":"8c","h":16,"fit":0.0295,"lo":0.0245,"hi":0.038},{"p":"8c","h":18,"fit":0.0335,"lo":0.025,"hi":0.042},{"p":"8c","h":20,"fit":0.0395,"lo":0.0262,"hi":0.055},{"p":"8c","h":22,"fit":0.0455,"lo":0.029,"hi":0.078},{"p":"8c","h":23,"fit":0.0485,"lo":0.03,"hi":0.092}
]
},
"vconcat":[
{"bounds":"flush","spacing":45,"hconcat":[
 {"width":214,"height":186,"title":{"text":"False killer whale","dx":8},"data":{"name":"labels"},"layer":[
  {"transform":[{"filter":"datum.p=='1a' && datum.k=='c'"}],"mark":{"type":"text","fontSize":22,"align":"center","baseline":"middle"},"encoding":{"x":{"datum":0.5,"type":"quantitative","scale":{"domain":[0,1]},"axis":null},"y":{"datum":0.5,"type":"quantitative","scale":{"domain":[0,1]},"axis":{"title":"Probability","labels":false,"ticks":false}},"text":{"field":"t"}}},
  {"transform":[{"filter":"datum.p=='1a' && datum.k=='l'"}],"mark":{"type":"text","font":"Liberation Sans","fontWeight":"bold","fontSize":19,"align":"left","baseline":"top","dx":7,"dy":9,"color":"#000000"},"encoding":{"x":{"datum":0,"type":"quantitative"},"y":{"datum":1,"type":"quantitative"},"text":{"field":"t"}}}
 ]},
 {"bounds":"flush","spacing":21,"hconcat":[
  {"width":217,"height":186,"layer":[
   {"data":{"name":"bars"},"transform":[{"filter":"datum.p=='1b'"}],"mark":{"type":"bar","orient":"vertical","size":7.1,"color":"#5cbcbc","opacity":0.48},"encoding":{"x":{"field":"h","type":"quantitative","scale":{"domain":[-1.07,25.02],"nice":false,"zero":false},"axis":{"values":[0,5,10,15,20,25],"labels":false,"title":null}},"y":{"field":"v","type":"quantitative","scale":{"domain":[-0.0036,0.1316],"nice":false,"zero":false},"axis":{"values":[0,0.03,0.06,0.09,0.12],"labelExpr":"datum.value==0?'0.0':datum.value==0.06?'0.06':datum.value==0.12?'0.12':''","title":null}}}},
   {"data":{"name":"curves"},"transform":[{"filter":"datum.p=='1b'"}],"mark":{"type":"area","interpolate":"natural","color":"#808080","opacity":0.3},"encoding":{"x":{"field":"h","type":"quantitative"},"y":{"field":"lo","type":"quantitative"},"y2":{"field":"hi"}}},
   {"data":{"name":"curves"},"transform":[{"filter":"datum.p=='1b'"}],"mark":{"type":"line","interpolate":"natural","color":"#3a3a3a","strokeWidth":1.1},"encoding":{"x":{"field":"h","type":"quantitative"},"y":{"field":"fit","type":"quantitative"}}},
   {"data":{"name":"night"},"transform":[{"filter":"datum.col=='b'"}],"mark":{"type":"rect","color":"#b4b4b4","opacity":0.35},"encoding":{"x":{"field":"from","type":"quantitative"},"x2":{"field":"to"}}},
   {"data":{"name":"notes"},"transform":[{"filter":"datum.p=='1b'"}],"mark":{"type":"text","align":"right","baseline":"top","fontSize":23,"dx":-13,"dy":5},"encoding":{"x":{"datum":24.5},"y":{"datum":0.1316},"text":{"field":"n"}}},
   {"data":{"name":"notes"},"transform":[{"filter":"datum.p=='1b'"}],"mark":{"type":"text","align":"right","baseline":"top","fontSize":13,"dy":2},"encoding":{"x":{"datum":24.5},"y":{"datum":0.1316},"text":{"field":"s"}}},
   {"data":{"name":"labels"},"transform":[{"filter":"datum.p=='1b'"}],"mark":{"type":"text","font":"Liberation Sans","fontWeight":"bold","fontSize":19,"align":"left","baseline":"top","dx":5,"dy":9,"color":"#000000"},"encoding":{"x":{"datum":-1.07},"y":{"datum":0.1316},"text":{"field":"t"}}}
  ]},
  {"width":216,"height":186,"data":{"name":"labels"},"layer":[
   {"transform":[{"filter":"datum.p=='1c' && datum.k=='c'"}],"mark":{"type":"text","fontSize":22,"fontWeight":"bold","align":"center","baseline":"middle"},"encoding":{"x":{"datum":0.5,"type":"quantitative","scale":{"domain":[0,1]},"axis":null},"y":{"datum":0.5,"type":"quantitative","scale":{"domain":[0,1]},"axis":null},"text":{"field":"t"}}},
   {"transform":[{"filter":"datum.p=='1c' && datum.k=='l'"}],"mark":{"type":"text","font":"Liberation Sans","fontWeight":"bold","fontSize":19,"align":"left","baseline":"top","dx":7,"dy":8,"color":"#000000"},"encoding":{"x":{"datum":0,"type":"quantitative"},"y":{"datum":1,"type":"quantitative"},"text":{"field":"t"}}}
  ]}
 ]}
]},
{"bounds":"flush","spacing":41,"hconcat":[
 {"width":218,"height":181,"title":{"text":"Rough-toothed dolphin","dx":7},"layer":[
  {"data":{"name":"bars"},"transform":[{"filter":"datum.p=='2a'"}],"mark":{"type":"bar","orient":"vertical","size":7.2,"color":"#5cbcbc","opacity":0.48},"encoding":{"x":{"field":"h","type":"quantitative","scale":{"domain":[-1.07,25.02],"nice":false,"zero":false},"axis":{"values":[0,5,10,15,20,25],"labels":false,"title":null}},"y":{"field":"v","type":"quantitative","scale":{"domain":[-0.0021,0.0446],"nice":false,"zero":false},"axis":{"values":[0,0.01,0.02,0.03,0.04],"labelExpr":"datum.value==0?'0.0':datum.value==0.02?'0.02':datum.value==0.04?'0.04':''","title":"Probability"}}}},
  {"data":{"name":"curves"},"transform":[{"filter":"datum.p=='2a'"}],"mark":{"type":"area","interpolate":"natural","color":"#808080","opacity":0.3},"encoding":{"x":{"field":"h","type":"quantitative"},"y":{"field":"lo","type":"quantitative"},"y2":{"field":"hi"}}},
  {"data":{"name":"curves"},"transform":[{"filter":"datum.p=='2a'"}],"mark":{"type":"line","interpolate":"natural","color":"#3a3a3a","strokeWidth":1.1},"encoding":{"x":{"field":"h","type":"quantitative"},"y":{"field":"fit","type":"quantitative"}}},
  {"data":{"name":"night"},"transform":[{"filter":"datum.col=='a'"}],"mark":{"type":"rect","color":"#b4b4b4","opacity":0.35},"encoding":{"x":{"field":"from","type":"quantitative"},"x2":{"field":"to"}}},
  {"data":{"name":"notes"},"transform":[{"filter":"datum.p=='2a'"}],"mark":{"type":"text","align":"right","baseline":"top","fontSize":23,"dx":-19.5,"dy":5},"encoding":{"x":{"datum":24.85},"y":{"datum":0.0446},"text":{"field":"n"}}},
  {"data":{"name":"notes"},"transform":[{"filter":"datum.p=='2a'"}],"mark":{"type":"text","align":"right","baseline":"top","fontSize":13,"dy":2},"encoding":{"x":{"datum":24.85},"y":{"datum":0.0446},"text":{"field":"s"}}}
 ]},
 {"bounds":"flush","spacing":37,"hconcat":[
  {"width":217,"height":181,"layer":[
   {"data":{"name":"bars"},"transform":[{"filter":"datum.p=='2b'"}],"mark":{"type":"bar","orient":"vertical","size":7.1,"color":"#5cbcbc","opacity":0.48},"encoding":{"x":{"field":"h","type":"quantitative","scale":{"domain":[-1.07,25.02],"nice":false,"zero":false},"axis":{"values":[0,5,10,15,20,25],"labels":false,"title":null}},"y":{"field":"v","type":"quantitative","scale":{"domain":[-0.02,0.452],"nice":false,"zero":false},"axis":{"values":[0,0.1,0.2,0.3,0.4],"labelExpr":"datum.value==0?'0.0':datum.value==0.2?'0.2':datum.value==0.4?'0.4':''","title":null}}}},
   {"data":{"name":"curves"},"transform":[{"filter":"datum.p=='2b'"}],"mark":{"type":"area","interpolate":"natural","color":"#808080","opacity":0.3},"encoding":{"x":{"field":"h","type":"quantitative"},"y":{"field":"lo","type":"quantitative"},"y2":{"field":"hi"}}},
   {"data":{"name":"curves"},"transform":[{"filter":"datum.p=='2b'"}],"mark":{"type":"line","interpolate":"natural","color":"#3a3a3a","strokeWidth":1.1},"encoding":{"x":{"field":"h","type":"quantitative"},"y":{"field":"fit","type":"quantitative"}}},
   {"data":{"name":"night"},"transform":[{"filter":"datum.col=='b'"}],"mark":{"type":"rect","color":"#b4b4b4","opacity":0.35},"encoding":{"x":{"field":"from","type":"quantitative"},"x2":{"field":"to"}}},
   {"data":{"name":"notes"},"transform":[{"filter":"datum.p=='2b'"}],"mark":{"type":"text","align":"right","baseline":"top","fontSize":23,"dx":-19.5,"dy":5},"encoding":{"x":{"datum":24.3},"y":{"datum":0.452},"text":{"field":"n"}}},
   {"data":{"name":"notes"},"transform":[{"filter":"datum.p=='2b'"}],"mark":{"type":"text","align":"right","baseline":"top","fontSize":13,"dy":2},"encoding":{"x":{"datum":24.3},"y":{"datum":0.452},"text":{"field":"s"}}}
  ]},
  {"width":201,"height":181,"layer":[
   {"data":{"name":"bars"},"transform":[{"filter":"datum.p=='2c'"}],"mark":{"type":"bar","orient":"vertical","size":6.5,"color":"#5cbcbc","opacity":0.48},"encoding":{"x":{"field":"h","type":"quantitative","scale":{"domain":[-1.07,25.02],"nice":false,"zero":false},"axis":{"values":[0,5,10,15,20,25],"labels":false,"title":null}},"y":{"field":"v","type":"quantitative","scale":{"domain":[-0.0085,0.244],"nice":false,"zero":false},"axis":{"values":[0,0.05,0.1,0.15,0.2],"labelExpr":"datum.value==0?'0.0':datum.value==0.1?'0.1':datum.value==0.2?'0.2':''","title":null}}}},
   {"data":{"name":"curves"},"transform":[{"filter":"datum.p=='2c'"}],"mark":{"type":"area","interpolate":"natural","color":"#808080","opacity":0.3},"encoding":{"x":{"field":"h","type":"quantitative"},"y":{"field":"lo","type":"quantitative"},"y2":{"field":"hi"}}},
   {"data":{"name":"curves"},"transform":[{"filter":"datum.p=='2c'"}],"mark":{"type":"line","interpolate":"natural","color":"#3a3a3a","strokeWidth":1.1},"encoding":{"x":{"field":"h","type":"quantitative"},"y":{"field":"fit","type":"quantitative"}}},
   {"data":{"name":"night"},"transform":[{"filter":"datum.col=='c'"}],"mark":{"type":"rect","color":"#b4b4b4","opacity":0.35},"encoding":{"x":{"field":"from","type":"quantitative"},"x2":{"field":"to"}}},
   {"data":{"name":"notes"},"transform":[{"filter":"datum.p=='2c'"}],"mark":{"type":"text","align":"right","baseline":"top","fontSize":23,"dx":-19.5,"dy":5},"encoding":{"x":{"datum":24.75},"y":{"datum":0.244},"text":{"field":"n"}}},
   {"data":{"name":"notes"},"transform":[{"filter":"datum.p=='2c'"}],"mark":{"type":"text","align":"right","baseline":"top","fontSize":13,"dy":2},"encoding":{"x":{"datum":24.75},"y":{"datum":0.244},"text":{"field":"s"}}}
  ]}
 ]}
]},
{"bounds":"flush","spacing":41,"hconcat":[
 {"width":218,"height":172,"title":{"text":"Short-finned pilot whale","dx":10},"layer":[
  {"data":{"name":"bars"},"transform":[{"filter":"datum.p=='3a'"}],"mark":{"type":"bar","orient":"vertical","size":7.2,"color":"#5cbcbc","opacity":0.48},"encoding":{"x":{"field":"h","type":"quantitative","scale":{"domain":[-1.07,25.02],"nice":false,"zero":false},"axis":{"values":[0,5,10,15,20,25],"labels":false,"title":null}},"y":{"field":"v","type":"quantitative","scale":{"domain":[-0.004,0.107],"nice":false,"zero":false},"axis":{"values":[0,0.025,0.05,0.075,0.1],"labelExpr":"datum.value==0?'0.0':datum.value==0.05?'0.05':datum.value==0.1?'0.10':''","title":"Probability"}}}},
  {"data":{"name":"curves"},"transform":[{"filter":"datum.p=='3a'"}],"mark":{"type":"area","interpolate":"natural","color":"#808080","opacity":0.3},"encoding":{"x":{"field":"h","type":"quantitative"},"y":{"field":"lo","type":"quantitative"},"y2":{"field":"hi"}}},
  {"data":{"name":"curves"},"transform":[{"filter":"datum.p=='3a'"}],"mark":{"type":"line","interpolate":"natural","color":"#3a3a3a","strokeWidth":1.1},"encoding":{"x":{"field":"h","type":"quantitative"},"y":{"field":"fit","type":"quantitative"}}},
  {"data":{"name":"night"},"transform":[{"filter":"datum.col=='a'"}],"mark":{"type":"rect","color":"#b4b4b4","opacity":0.35},"encoding":{"x":{"field":"from","type":"quantitative"},"x2":{"field":"to"}}},
  {"data":{"name":"notes"},"transform":[{"filter":"datum.p=='3a'"}],"mark":{"type":"text","align":"right","baseline":"top","fontSize":23,"dx":-19.5,"dy":5},"encoding":{"x":{"datum":24.85},"y":{"datum":0.107},"text":{"field":"n"}}},
  {"data":{"name":"notes"},"transform":[{"filter":"datum.p=='3a'"}],"mark":{"type":"text","align":"right","baseline":"top","fontSize":13,"dy":2},"encoding":{"x":{"datum":24.85},"y":{"datum":0.107},"text":{"field":"s"}}}
 ]},
 {"bounds":"flush","spacing":37,"hconcat":[
  {"width":217,"height":172,"layer":[
   {"data":{"name":"bars"},"transform":[{"filter":"datum.p=='3b'"}],"mark":{"type":"bar","orient":"vertical","size":7.1,"color":"#5cbcbc","opacity":0.48},"encoding":{"x":{"field":"h","type":"quantitative","scale":{"domain":[-1.07,25.02],"nice":false,"zero":false},"axis":{"values":[0,5,10,15,20,25],"labels":false,"title":null}},"y":{"field":"v","type":"quantitative","scale":{"domain":[-0.0025,0.064],"nice":false,"zero":false},"axis":{"values":[0,0.015,0.03,0.045,0.06],"labelExpr":"datum.value==0?'0.0':datum.value==0.03?'0.03':datum.value==0.06?'0.06':''","title":null}}}},
   {"data":{"name":"curves"},"transform":[{"filter":"datum.p=='3b'"}],"mark":{"type":"area","interpolate":"natural","color":"#808080","opacity":0.3},"encoding":{"x":{"field":"h","type":"quantitative"},"y":{"field":"lo","type":"quantitative"},"y2":{"field":"hi"}}},
   {"data":{"name":"curves"},"transform":[{"filter":"datum.p=='3b'"}],"mark":{"type":"line","interpolate":"natural","color":"#3a3a3a","strokeWidth":1.1},"encoding":{"x":{"field":"h","type":"quantitative"},"y":{"field":"fit","type":"quantitative"}}},
   {"data":{"name":"night"},"transform":[{"filter":"datum.col=='b'"}],"mark":{"type":"rect","color":"#b4b4b4","opacity":0.35},"encoding":{"x":{"field":"from","type":"quantitative"},"x2":{"field":"to"}}},
   {"data":{"name":"notes"},"transform":[{"filter":"datum.p=='3b'"}],"mark":{"type":"text","align":"right","baseline":"top","fontSize":23,"dx":-19.5,"dy":5},"encoding":{"x":{"datum":24.3},"y":{"datum":0.064},"text":{"field":"n"}}},
   {"data":{"name":"notes"},"transform":[{"filter":"datum.p=='3b'"}],"mark":{"type":"text","align":"right","baseline":"top","fontSize":13,"dy":2},"encoding":{"x":{"datum":24.3},"y":{"datum":0.064},"text":{"field":"s"}}}
  ]},
  {"width":201,"height":172,"layer":[
   {"data":{"name":"bars"},"transform":[{"filter":"datum.p=='3c'"}],"mark":{"type":"bar","orient":"vertical","size":6.5,"color":"#5cbcbc","opacity":0.48},"encoding":{"x":{"field":"h","type":"quantitative","scale":{"domain":[-1.07,25.02],"nice":false,"zero":false},"axis":{"values":[0,5,10,15,20,25],"labels":false,"title":null}},"y":{"field":"v","type":"quantitative","scale":{"domain":[-0.0016,0.042],"nice":false,"zero":false},"axis":{"values":[0,0.01,0.02,0.03,0.04],"labelExpr":"datum.value==0?'0.0':datum.value==0.02?'0.02':datum.value==0.04?'0.04':''","title":null}}}},
   {"data":{"name":"curves"},"transform":[{"filter":"datum.p=='3c'"}],"mark":{"type":"area","interpolate":"natural","color":"#808080","opacity":0.3},"encoding":{"x":{"field":"h","type":"quantitative"},"y":{"field":"lo","type":"quantitative"},"y2":{"field":"hi"}}},
   {"data":{"name":"curves"},"transform":[{"filter":"datum.p=='3c'"}],"mark":{"type":"line","interpolate":"natural","color":"#3a3a3a","strokeWidth":1.1},"encoding":{"x":{"field":"h","type":"quantitative"},"y":{"field":"fit","type":"quantitative"}}},
   {"data":{"name":"night"},"transform":[{"filter":"datum.col=='c'"}],"mark":{"type":"rect","color":"#b4b4b4","opacity":0.35},"encoding":{"x":{"field":"from","type":"quantitative"},"x2":{"field":"to"}}},
   {"data":{"name":"notes"},"transform":[{"filter":"datum.p=='3c'"}],"mark":{"type":"text","align":"right","baseline":"top","fontSize":23,"dx":-19.5,"dy":5},"encoding":{"x":{"datum":24.75},"y":{"datum":0.042},"text":{"field":"n"}}},
   {"data":{"name":"notes"},"transform":[{"filter":"datum.p=='3c'"}],"mark":{"type":"text","align":"right","baseline":"top","fontSize":13,"dy":2},"encoding":{"x":{"datum":24.75},"y":{"datum":0.042},"text":{"field":"s"}}}
  ]}
 ]}
]},
{"bounds":"flush","spacing":41,"hconcat":[
 {"width":218,"height":180,"title":{"text":"Bottlenose d. and melon-headed w.","dx":0},"layer":[
  {"data":{"name":"bars"},"transform":[{"filter":"datum.p=='4a'"}],"mark":{"type":"bar","orient":"vertical","size":7.2,"color":"#5cbcbc","opacity":0.48},"encoding":{"x":{"field":"h","type":"quantitative","scale":{"domain":[-1.07,25.02],"nice":false,"zero":false},"axis":{"values":[0,5,10,15,20,25],"labels":false,"title":null}},"y":{"field":"v","type":"quantitative","scale":{"domain":[-0.0022,0.0338],"nice":false,"zero":false},"axis":{"values":[0,0.0075,0.015,0.0225,0.03],"labelExpr":"datum.value==0?'0.0':datum.value==0.015?'0.015':datum.value==0.03?'0.03':''","title":"Probability"}}}},
  {"data":{"name":"curves"},"transform":[{"filter":"datum.p=='4a'"}],"mark":{"type":"area","interpolate":"natural","color":"#808080","opacity":0.3},"encoding":{"x":{"field":"h","type":"quantitative"},"y":{"field":"lo","type":"quantitative"},"y2":{"field":"hi"}}},
  {"data":{"name":"curves"},"transform":[{"filter":"datum.p=='4a'"}],"mark":{"type":"line","interpolate":"natural","color":"#3a3a3a","strokeWidth":1.1},"encoding":{"x":{"field":"h","type":"quantitative"},"y":{"field":"fit","type":"quantitative"}}},
  {"data":{"name":"night"},"transform":[{"filter":"datum.col=='a'"}],"mark":{"type":"rect","color":"#b4b4b4","opacity":0.35},"encoding":{"x":{"field":"from","type":"quantitative"},"x2":{"field":"to"}}},
  {"data":{"name":"notes"},"transform":[{"filter":"datum.p=='4a'"}],"mark":{"type":"text","align":"right","baseline":"top","fontSize":23,"dx":-19.5,"dy":5},"encoding":{"x":{"datum":24.85},"y":{"datum":0.0338},"text":{"field":"n"}}},
  {"data":{"name":"notes"},"transform":[{"filter":"datum.p=='4a'"}],"mark":{"type":"text","align":"right","baseline":"top","fontSize":13,"dy":2},"encoding":{"x":{"datum":24.85},"y":{"datum":0.0338},"text":{"field":"s"}}}
 ]},
 {"bounds":"flush","spacing":37,"hconcat":[
  {"width":217,"height":180,"layer":[
   {"data":{"name":"bars"},"transform":[{"filter":"datum.p=='4b'"}],"mark":{"type":"bar","orient":"vertical","size":7.1,"color":"#5cbcbc","opacity":0.48},"encoding":{"x":{"field":"h","type":"quantitative","scale":{"domain":[-1.07,25.02],"nice":false,"zero":false},"axis":{"values":[0,5,10,15,20,25],"labels":false,"title":null}},"y":{"field":"v","type":"quantitative","scale":{"domain":[-0.0028,0.066],"nice":false,"zero":false},"axis":{"values":[0,0.015,0.03,0.045,0.06],"labelExpr":"datum.value==0?'0.0':datum.value==0.03?'0.03':datum.value==0.06?'0.06':''","title":null}}}},
   {"data":{"name":"curves"},"transform":[{"filter":"datum.p=='4b'"}],"mark":{"type":"area","interpolate":"natural","color":"#808080","opacity":0.3},"encoding":{"x":{"field":"h","type":"quantitative"},"y":{"field":"lo","type":"quantitative"},"y2":{"field":"hi"}}},
   {"data":{"name":"curves"},"transform":[{"filter":"datum.p=='4b'"}],"mark":{"type":"line","interpolate":"natural","color":"#3a3a3a","strokeWidth":1.1},"encoding":{"x":{"field":"h","type":"quantitative"},"y":{"field":"fit","type":"quantitative"}}},
   {"data":{"name":"night"},"transform":[{"filter":"datum.col=='b'"}],"mark":{"type":"rect","color":"#b4b4b4","opacity":0.35},"encoding":{"x":{"field":"from","type":"quantitative"},"x2":{"field":"to"}}},
   {"data":{"name":"notes"},"transform":[{"filter":"datum.p=='4b'"}],"mark":{"type":"text","align":"right","baseline":"top","fontSize":23,"dx":-19.5,"dy":5},"encoding":{"x":{"datum":24.3},"y":{"datum":0.066},"text":{"field":"n"}}},
   {"data":{"name":"notes"},"transform":[{"filter":"datum.p=='4b'"}],"mark":{"type":"text","align":"right","baseline":"top","fontSize":13,"dy":2},"encoding":{"x":{"datum":24.3},"y":{"datum":0.066},"text":{"field":"s"}}}
  ]},
  {"width":201,"height":180,"layer":[
   {"data":{"name":"bars"},"transform":[{"filter":"datum.p=='4c'"}],"mark":{"type":"bar","orient":"vertical","size":6.5,"color":"#5cbcbc","opacity":0.48},"encoding":{"x":{"field":"h","type":"quantitative","scale":{"domain":[-1.07,25.02],"nice":false,"zero":false},"axis":{"values":[0,5,10,15,20,25],"labels":false,"title":null}},"y":{"field":"v","type":"quantitative","scale":{"domain":[-0.0008,0.0215],"nice":false,"zero":false},"axis":{"values":[0,0.005,0.01,0.015,0.02],"labelExpr":"datum.value==0?'0.0':datum.value==0.01?'0.01':datum.value==0.02?'0.02':''","title":null}}}},
   {"data":{"name":"curves"},"transform":[{"filter":"datum.p=='4c'"}],"mark":{"type":"area","interpolate":"natural","color":"#808080","opacity":0.3},"encoding":{"x":{"field":"h","type":"quantitative"},"y":{"field":"lo","type":"quantitative"},"y2":{"field":"hi"}}},
   {"data":{"name":"curves"},"transform":[{"filter":"datum.p=='4c'"}],"mark":{"type":"line","interpolate":"natural","color":"#3a3a3a","strokeWidth":1.1},"encoding":{"x":{"field":"h","type":"quantitative"},"y":{"field":"fit","type":"quantitative"}}},
   {"data":{"name":"night"},"transform":[{"filter":"datum.col=='c'"}],"mark":{"type":"rect","color":"#b4b4b4","opacity":0.35},"encoding":{"x":{"field":"from","type":"quantitative"},"x2":{"field":"to"}}},
   {"data":{"name":"notes"},"transform":[{"filter":"datum.p=='4c'"}],"mark":{"type":"text","align":"right","baseline":"top","fontSize":23,"dx":-19.5,"dy":5},"encoding":{"x":{"datum":24.75},"y":{"datum":0.0215},"text":{"field":"n"}}},
   {"data":{"name":"notes"},"transform":[{"filter":"datum.p=='4c'"}],"mark":{"type":"text","align":"right","baseline":"top","fontSize":13,"dy":2},"encoding":{"x":{"datum":24.75},"y":{"datum":0.0215},"text":{"field":"s"}}}
  ]}
 ]}
]},
{"bounds":"flush","spacing":41,"hconcat":[
 {"width":218,"height":176,"title":{"text":"Blainville’s beaked whale","dx":9},"layer":[
  {"data":{"name":"bars"},"transform":[{"filter":"datum.p=='5a'"}],"mark":{"type":"bar","orient":"vertical","size":7.2,"color":"#5cbcbc","opacity":0.48},"encoding":{"x":{"field":"h","type":"quantitative","scale":{"domain":[-1.07,25.02],"nice":false,"zero":false},"axis":{"values":[0,5,10,15,20,25],"labels":false,"title":null}},"y":{"field":"v","type":"quantitative","scale":{"domain":[-0.0013,0.0335],"nice":false,"zero":false},"axis":{"values":[0,0.0075,0.015,0.0225,0.03],"labelExpr":"datum.value==0?'0.0':datum.value==0.015?'0.015':datum.value==0.03?'0.03':''","title":"Probability"}}}},
  {"data":{"name":"curves"},"transform":[{"filter":"datum.p=='5a'"}],"mark":{"type":"area","interpolate":"natural","color":"#808080","opacity":0.3},"encoding":{"x":{"field":"h","type":"quantitative"},"y":{"field":"lo","type":"quantitative"},"y2":{"field":"hi"}}},
  {"data":{"name":"curves"},"transform":[{"filter":"datum.p=='5a'"}],"mark":{"type":"line","interpolate":"natural","color":"#3a3a3a","strokeWidth":1.1},"encoding":{"x":{"field":"h","type":"quantitative"},"y":{"field":"fit","type":"quantitative"}}},
  {"data":{"name":"night"},"transform":[{"filter":"datum.col=='a'"}],"mark":{"type":"rect","color":"#b4b4b4","opacity":0.35},"encoding":{"x":{"field":"from","type":"quantitative"},"x2":{"field":"to"}}},
  {"data":{"name":"notes"},"transform":[{"filter":"datum.p=='5a'"}],"mark":{"type":"text","align":"right","baseline":"top","fontSize":23,"dx":-13,"dy":5},"encoding":{"x":{"datum":24.85},"y":{"datum":0.0335},"text":{"field":"n"}}},
  {"data":{"name":"notes"},"transform":[{"filter":"datum.p=='5a'"}],"mark":{"type":"text","align":"right","baseline":"top","fontSize":13,"dy":2},"encoding":{"x":{"datum":24.85},"y":{"datum":0.0335},"text":{"field":"s"}}}
 ]},
 {"bounds":"flush","spacing":24,"hconcat":[
  {"width":217,"height":176,"layer":[
   {"data":{"name":"bars"},"transform":[{"filter":"datum.p=='5b'"}],"mark":{"type":"bar","orient":"vertical","size":7.1,"color":"#5cbcbc","opacity":0.48},"encoding":{"x":{"field":"h","type":"quantitative","scale":{"domain":[-1.07,25.02],"nice":false,"zero":false},"axis":{"values":[0,5,10,15,20,25],"labels":false,"title":null}},"y":{"field":"v","type":"quantitative","scale":{"domain":[-0.0018,0.045],"nice":false,"zero":false},"axis":{"values":[0,0.01,0.02,0.03,0.04],"labelExpr":"datum.value==0?'0.0':datum.value==0.02?'0.02':datum.value==0.04?'0.04':''","title":null}}}},
   {"data":{"name":"curves"},"transform":[{"filter":"datum.p=='5b'"}],"mark":{"type":"area","interpolate":"natural","color":"#808080","opacity":0.3},"encoding":{"x":{"field":"h","type":"quantitative"},"y":{"field":"lo","type":"quantitative"},"y2":{"field":"hi"}}},
   {"data":{"name":"curves"},"transform":[{"filter":"datum.p=='5b'"}],"mark":{"type":"line","interpolate":"natural","color":"#3a3a3a","strokeWidth":1.1},"encoding":{"x":{"field":"h","type":"quantitative"},"y":{"field":"fit","type":"quantitative"}}},
   {"data":{"name":"night"},"transform":[{"filter":"datum.col=='b'"}],"mark":{"type":"rect","color":"#b4b4b4","opacity":0.35},"encoding":{"x":{"field":"from","type":"quantitative"},"x2":{"field":"to"}}},
   {"data":{"name":"notes"},"transform":[{"filter":"datum.p=='5b'"}],"mark":{"type":"text","align":"right","baseline":"top","fontSize":23,"dx":-19.5,"dy":5},"encoding":{"x":{"datum":24.3},"y":{"datum":0.045},"text":{"field":"n"}}},
   {"data":{"name":"notes"},"transform":[{"filter":"datum.p=='5b'"}],"mark":{"type":"text","align":"right","baseline":"top","fontSize":13,"dy":2},"encoding":{"x":{"datum":24.3},"y":{"datum":0.045},"text":{"field":"s"}}}
  ]},
  {"width":214,"height":176,"data":{"name":"labels"},"transform":[{"filter":"datum.p=='5c'"}],"mark":{"type":"text","fontSize":22,"align":"center","baseline":"middle"},"encoding":{"x":{"datum":0.5,"type":"quantitative","scale":{"domain":[0,1]},"axis":null},"y":{"datum":0.5,"type":"quantitative","scale":{"domain":[0,1]},"axis":null},"text":{"field":"t"}}}
 ]}
]},
{"bounds":"flush","spacing":32,"hconcat":[
 {"width":216,"height":194,"title":{"text":"Cuvier’s beaked whale","dx":0},"data":{"name":"labels"},"transform":[{"filter":"datum.p=='6a'"}],"mark":{"type":"text","fontSize":22,"align":"center","baseline":"middle"},"encoding":{"x":{"datum":0.5,"type":"quantitative","scale":{"domain":[0,1]},"axis":null},"y":{"datum":0.5,"type":"quantitative","scale":{"domain":[0,1]},"axis":{"title":"Probability","labels":false,"ticks":false}},"text":{"field":"t"}}},
 {"bounds":"flush","spacing":42,"hconcat":[
  {"width":222,"height":194,"data":{"name":"labels"},"transform":[{"filter":"datum.p=='6b'"}],"mark":{"type":"text","fontSize":22,"fontWeight":"bold","align":"center","baseline":"middle"},"encoding":{"x":{"datum":0.5,"type":"quantitative","scale":{"domain":[0,1]},"axis":null},"y":{"datum":0.5,"type":"quantitative","scale":{"domain":[0,1]},"axis":null},"text":{"field":"t"}}},
  {"width":202,"height":194,"layer":[
   {"data":{"name":"bars"},"transform":[{"filter":"datum.p=='6c'"}],"mark":{"type":"bar","orient":"vertical","size":6.5,"color":"#5cbcbc","opacity":0.48},"encoding":{"x":{"field":"h","type":"quantitative","scale":{"domain":[-1.07,25.02],"nice":false,"zero":false},"axis":{"values":[0,5,10,15,20,25],"labels":false,"title":null}},"y":{"field":"v","type":"quantitative","scale":{"domain":[-0.0016,0.061],"nice":false,"zero":false},"axis":{"values":[0,0.015,0.03,0.045,0.06],"labelExpr":"datum.value==0?'0.0':datum.value==0.03?'0.03':datum.value==0.06?'0.06':''","title":null}}}},
   {"data":{"name":"curves"},"transform":[{"filter":"datum.p=='6c'"}],"mark":{"type":"area","interpolate":"natural","color":"#808080","opacity":0.3},"encoding":{"x":{"field":"h","type":"quantitative"},"y":{"field":"lo","type":"quantitative"},"y2":{"field":"hi"}}},
   {"data":{"name":"curves"},"transform":[{"filter":"datum.p=='6c'"}],"mark":{"type":"line","interpolate":"natural","color":"#3a3a3a","strokeWidth":1.1},"encoding":{"x":{"field":"h","type":"quantitative"},"y":{"field":"fit","type":"quantitative"}}},
   {"data":{"name":"night"},"transform":[{"filter":"datum.col=='c'"}],"mark":{"type":"rect","color":"#b4b4b4","opacity":0.35},"encoding":{"x":{"field":"from","type":"quantitative"},"x2":{"field":"to"}}},
   {"data":{"name":"notes"},"transform":[{"filter":"datum.p=='6c'"}],"mark":{"type":"text","align":"right","baseline":"top","fontSize":23,"dx":-19.5,"dy":5,"clip":true},"encoding":{"x":{"datum":25.2},"y":{"datum":0.061},"text":{"field":"n"}}},
   {"data":{"name":"notes"},"transform":[{"filter":"datum.p=='6c'"}],"mark":{"type":"text","align":"right","baseline":"top","fontSize":13,"dy":2,"clip":true},"encoding":{"x":{"datum":25.2},"y":{"datum":0.061},"text":{"field":"s"}}}
  ]}
 ]}
]},
{"bounds":"flush","spacing":41,"hconcat":[
 {"width":218,"height":179,"title":{"text":"Stenellids","dx":9},"layer":[
  {"data":{"name":"bars"},"transform":[{"filter":"datum.p=='7a'"}],"mark":{"type":"bar","orient":"vertical","size":7.2,"color":"#5cbcbc","opacity":0.48},"encoding":{"x":{"field":"h","type":"quantitative","scale":{"domain":[-1.07,25.02],"nice":false,"zero":false},"axis":{"values":[0,5,10,15,20,25],"labels":false,"title":null}},"y":{"field":"v","type":"quantitative","scale":{"domain":[-0.025,0.63],"nice":false,"zero":false},"axis":{"values":[0,0.15,0.3,0.45,0.6],"labelExpr":"datum.value==0?'0.0':datum.value==0.3?'0.3':datum.value==0.6?'0.6':''","title":"Probability"}}}},
  {"data":{"name":"curves"},"transform":[{"filter":"datum.p=='7a'"}],"mark":{"type":"area","interpolate":"natural","color":"#808080","opacity":0.3},"encoding":{"x":{"field":"h","type":"quantitative"},"y":{"field":"lo","type":"quantitative"},"y2":{"field":"hi"}}},
  {"data":{"name":"curves"},"transform":[{"filter":"datum.p=='7a'"}],"mark":{"type":"line","interpolate":"natural","color":"#3a3a3a","strokeWidth":1.1},"encoding":{"x":{"field":"h","type":"quantitative"},"y":{"field":"fit","type":"quantitative"}}},
  {"data":{"name":"night"},"transform":[{"filter":"datum.col=='a'"}],"mark":{"type":"rect","color":"#b4b4b4","opacity":0.35},"encoding":{"x":{"field":"from","type":"quantitative"},"x2":{"field":"to"}}},
  {"data":{"name":"notes"},"transform":[{"filter":"datum.p=='7a'"}],"mark":{"type":"text","align":"right","baseline":"top","fontSize":23,"dx":-19.5,"dy":5},"encoding":{"x":{"datum":24.85},"y":{"datum":0.63},"text":{"field":"n"}}},
  {"data":{"name":"notes"},"transform":[{"filter":"datum.p=='7a'"}],"mark":{"type":"text","align":"right","baseline":"top","fontSize":13,"dy":2},"encoding":{"x":{"datum":24.85},"y":{"datum":0.63},"text":{"field":"s"}}}
 ]},
 {"bounds":"flush","spacing":37,"hconcat":[
  {"width":217,"height":179,"layer":[
   {"data":{"name":"bars"},"transform":[{"filter":"datum.p=='7b'"}],"mark":{"type":"bar","orient":"vertical","size":7.1,"color":"#5cbcbc","opacity":0.48},"encoding":{"x":{"field":"h","type":"quantitative","scale":{"domain":[-1.07,25.02],"nice":false,"zero":false},"axis":{"values":[0,5,10,15,20,25],"labels":false,"title":null}},"y":{"field":"v","type":"quantitative","scale":{"domain":[-0.013,0.3225],"nice":false,"zero":false},"axis":{"values":[0,0.075,0.15,0.225,0.3],"labelExpr":"datum.value==0?'0.0':datum.value==0.15?'0.15':datum.value==0.3?'0.3':''","title":null}}}},
   {"data":{"name":"curves"},"transform":[{"filter":"datum.p=='7b'"}],"mark":{"type":"area","interpolate":"natural","color":"#808080","opacity":0.3},"encoding":{"x":{"field":"h","type":"quantitative"},"y":{"field":"lo","type":"quantitative"},"y2":{"field":"hi"}}},
   {"data":{"name":"curves"},"transform":[{"filter":"datum.p=='7b'"}],"mark":{"type":"line","interpolate":"natural","color":"#3a3a3a","strokeWidth":1.1},"encoding":{"x":{"field":"h","type":"quantitative"},"y":{"field":"fit","type":"quantitative"}}},
   {"data":{"name":"night"},"transform":[{"filter":"datum.col=='b'"}],"mark":{"type":"rect","color":"#b4b4b4","opacity":0.35},"encoding":{"x":{"field":"from","type":"quantitative"},"x2":{"field":"to"}}},
   {"data":{"name":"notes"},"transform":[{"filter":"datum.p=='7b'"}],"mark":{"type":"text","align":"right","baseline":"top","fontSize":23,"dx":-19.5,"dy":5},"encoding":{"x":{"datum":24.3},"y":{"datum":0.3225},"text":{"field":"n"}}},
   {"data":{"name":"notes"},"transform":[{"filter":"datum.p=='7b'"}],"mark":{"type":"text","align":"right","baseline":"top","fontSize":13,"dy":2},"encoding":{"x":{"datum":24.3},"y":{"datum":0.3225},"text":{"field":"s"}}}
  ]},
  {"width":201,"height":179,"layer":[
   {"data":{"name":"bars"},"transform":[{"filter":"datum.p=='7c'"}],"mark":{"type":"bar","orient":"vertical","size":6.5,"color":"#5cbcbc","opacity":0.48},"encoding":{"x":{"field":"h","type":"quantitative","scale":{"domain":[-1.07,25.02],"nice":false,"zero":false},"axis":{"values":[0,5,10,15,20,25],"labels":false,"title":null}},"y":{"field":"v","type":"quantitative","scale":{"domain":[-0.005,0.125],"nice":false,"zero":false},"axis":{"values":[0,0.03,0.06,0.09,0.12],"labelExpr":"datum.value==0?'0.0':datum.value==0.06?'0.06':datum.value==0.12?'0.12':''","title":null}}}},
   {"data":{"name":"curves"},"transform":[{"filter":"datum.p=='7c'"}],"mark":{"type":"area","interpolate":"natural","color":"#808080","opacity":0.3},"encoding":{"x":{"field":"h","type":"quantitative"},"y":{"field":"lo","type":"quantitative"},"y2":{"field":"hi"}}},
   {"data":{"name":"curves"},"transform":[{"filter":"datum.p=='7c'"}],"mark":{"type":"line","interpolate":"natural","color":"#3a3a3a","strokeWidth":1.1},"encoding":{"x":{"field":"h","type":"quantitative"},"y":{"field":"fit","type":"quantitative"}}},
   {"data":{"name":"night"},"transform":[{"filter":"datum.col=='c'"}],"mark":{"type":"rect","color":"#b4b4b4","opacity":0.35},"encoding":{"x":{"field":"from","type":"quantitative"},"x2":{"field":"to"}}},
   {"data":{"name":"notes"},"transform":[{"filter":"datum.p=='7c'"}],"mark":{"type":"text","align":"right","baseline":"top","fontSize":23,"dx":-19.5,"dy":5,"clip":true},"encoding":{"x":{"datum":25.3},"y":{"datum":0.125},"text":{"field":"n"}}},
   {"data":{"name":"notes"},"transform":[{"filter":"datum.p=='7c'"}],"mark":{"type":"text","align":"right","baseline":"top","fontSize":13,"dy":2,"clip":true},"encoding":{"x":{"datum":25.3},"y":{"datum":0.125},"text":{"field":"s"}}}
  ]}
 ]}
]},
{"bounds":"flush","spacing":28,"hconcat":[
 {"width":220,"height":190,"layer":[
  {"data":{"name":"bars"},"transform":[{"filter":"datum.p=='8a'"}],"mark":{"type":"bar","orient":"vertical","size":7.2,"color":"#5cbcbc","opacity":0.48},"encoding":{"x":{"field":"h","type":"quantitative","scale":{"domain":[-1.07,25.02],"nice":false,"zero":false},"axis":{"values":[0,5,10,15,20,25],"labelExpr":"datum.value==25?'':datum.label","title":"Hour of day","titleX":93}},"y":{"field":"v","type":"quantitative","scale":{"domain":[-0.0024,0.0405],"nice":false,"zero":false},"axis":{"values":[0,0.01,0.02,0.03,0.04],"labelExpr":"datum.value==0?'0.0':datum.value==0.02?'0.02':datum.value==0.04?'0.04':''","title":"Probability"}}}},
  {"data":{"name":"curves"},"transform":[{"filter":"datum.p=='8a'"}],"mark":{"type":"area","interpolate":"natural","color":"#808080","opacity":0.3},"encoding":{"x":{"field":"h","type":"quantitative"},"y":{"field":"lo","type":"quantitative"},"y2":{"field":"hi"}}},
  {"data":{"name":"curves"},"transform":[{"filter":"datum.p=='8a'"}],"mark":{"type":"line","interpolate":"natural","color":"#3a3a3a","strokeWidth":1.1},"encoding":{"x":{"field":"h","type":"quantitative"},"y":{"field":"fit","type":"quantitative"}}},
  {"data":{"name":"night"},"transform":[{"filter":"datum.col=='a'"}],"mark":{"type":"rect","color":"#b4b4b4","opacity":0.35},"encoding":{"x":{"field":"from","type":"quantitative"},"x2":{"field":"to"}}},
  {"data":{"name":"notes"},"transform":[{"filter":"datum.p=='8a'"}],"mark":{"type":"text","align":"right","baseline":"top","fontSize":23,"dx":-19.5,"dy":5},"encoding":{"x":{"datum":24.85},"y":{"datum":0.0405},"text":{"field":"n"}}},
  {"data":{"name":"notes"},"transform":[{"filter":"datum.p=='8a'"}],"mark":{"type":"text","align":"right","baseline":"top","fontSize":13,"dy":2},"encoding":{"x":{"datum":24.85},"y":{"datum":0.0405},"text":{"field":"s"}}},
  {"data":{"name":"labels"},"transform":[{"filter":"datum.p=='8a' && datum.k=='t'"}],"mark":{"type":"text","fontSize":21,"fontWeight":"bold","fontStyle":"italic","align":"left","baseline":"alphabetic","dx":6,"dy":-6,"color":"#000000"},"encoding":{"x":{"datum":-1.07},"y":{"datum":0.0405},"text":{"field":"t"}}},
  {"data":{"name":"labels"},"transform":[{"filter":"datum.p=='8a' && datum.k=='u'"}],"mark":{"type":"text","fontSize":21,"fontWeight":"bold","align":"left","baseline":"alphabetic","dx":62,"dy":-6,"color":"#000000"},"encoding":{"x":{"datum":-1.07},"y":{"datum":0.0405},"text":{"field":"t"}}}
 ]},
 {"bounds":"flush","spacing":43,"hconcat":[
  {"width":224,"height":190,"data":{"name":"labels"},"transform":[{"filter":"datum.p=='8b'"}],"mark":{"type":"text","fontSize":22,"align":"center","baseline":"middle"},"encoding":{"x":{"datum":12.5,"type":"quantitative","scale":{"domain":[-1.94,26.97],"nice":false,"zero":false},"axis":{"values":[0,5,10,15,20],"ticks":false,"labelPadding":8,"title":"Hour of day","titleX":96}},"y":{"datum":0.5,"type":"quantitative","scale":{"domain":[0,1]},"axis":null},"text":{"field":"t"}}},
  {"width":199,"height":190,"layer":[
   {"data":{"name":"bars"},"transform":[{"filter":"datum.p=='8c'"}],"mark":{"type":"bar","orient":"vertical","size":6.5,"color":"#5cbcbc","opacity":0.48},"encoding":{"x":{"field":"h","type":"quantitative","scale":{"domain":[-1.07,25.02],"nice":false,"zero":false},"axis":{"values":[0,5,10,15,20,25],"labelExpr":"datum.value==25?'':datum.label","title":"Hour of day","titleX":82}},"y":{"field":"v","type":"quantitative","scale":{"domain":[-0.0064,0.122],"nice":false,"zero":false},"axis":{"values":[0,0.03,0.06,0.09,0.12],"labelExpr":"datum.value==0?'0.0':datum.value==0.06?'0.06':datum.value==0.12?'0.12':''","title":null}}}},
   {"data":{"name":"curves"},"transform":[{"filter":"datum.p=='8c'"}],"mark":{"type":"area","interpolate":"natural","color":"#808080","opacity":0.3},"encoding":{"x":{"field":"h","type":"quantitative"},"y":{"field":"lo","type":"quantitative"},"y2":{"field":"hi"}}},
   {"data":{"name":"curves"},"transform":[{"filter":"datum.p=='8c'"}],"mark":{"type":"line","interpolate":"natural","color":"#3a3a3a","strokeWidth":1.1},"encoding":{"x":{"field":"h","type":"quantitative"},"y":{"field":"fit","type":"quantitative"}}},
   {"data":{"name":"night"},"transform":[{"filter":"datum.col=='c'"}],"mark":{"type":"rect","color":"#b4b4b4","opacity":0.35},"encoding":{"x":{"field":"from","type":"quantitative"},"x2":{"field":"to"}}},
   {"data":{"name":"notes"},"transform":[{"filter":"datum.p=='8c'"}],"mark":{"type":"text","align":"right","baseline":"top","fontSize":23,"dx":-13,"dy":5,"clip":true},"encoding":{"x":{"datum":25.9},"y":{"datum":0.122},"text":{"field":"n"}}},
   {"data":{"name":"notes"},"transform":[{"filter":"datum.p=='8c'"}],"mark":{"type":"text","align":"right","baseline":"top","fontSize":13,"dy":2,"clip":true},"encoding":{"x":{"datum":25.9},"y":{"datum":0.122},"text":{"field":"s"}}}
  ]}
 ]}
]}
]
}
